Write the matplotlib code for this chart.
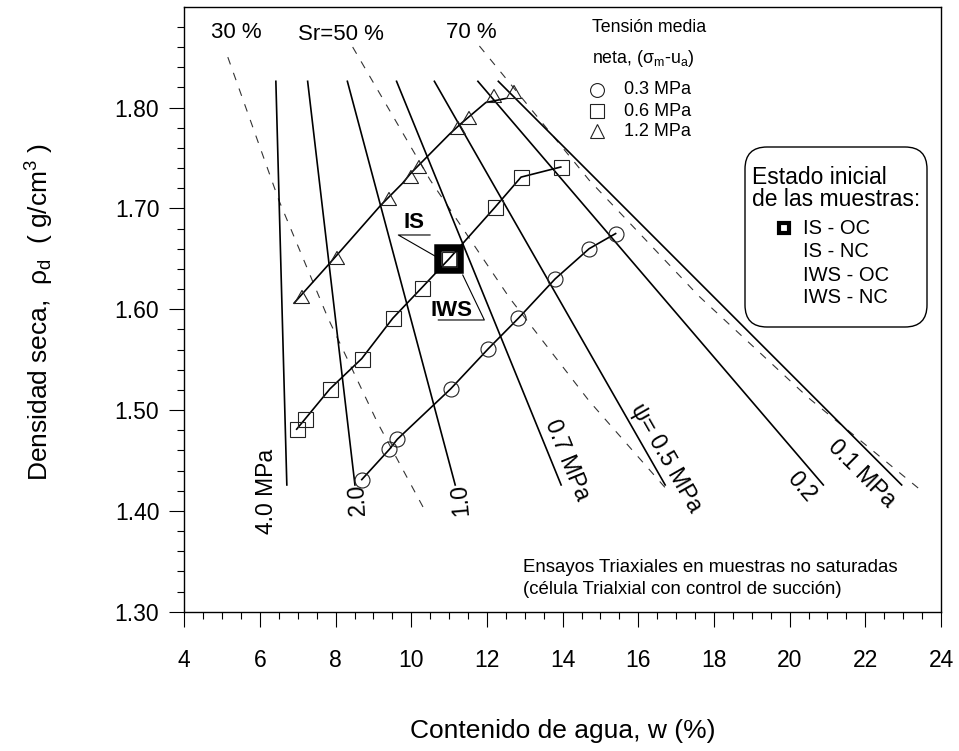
import matplotlib
matplotlib.use("Agg")
import matplotlib.pyplot as plt
from matplotlib.path import Path
from matplotlib.markers import MarkerStyle
from matplotlib.patches import FancyBboxPatch
from matplotlib.lines import Line2D
from matplotlib.transforms import IdentityTransform

plt.rcParams['font.family'] = ['Liberation Sans', 'DejaVu Sans']
plt.rcParams['mathtext.fontset'] = 'custom'
plt.rcParams['mathtext.rm'] = 'Liberation Sans'
plt.rcParams['mathtext.it'] = 'Liberation Sans'
plt.rcParams['mathtext.sf'] = 'Liberation Sans'

# ---------------- data ----------------
# net mean stress 0.3 MPa (circles)
w_03 = [8.69, 9.42, 9.63, 11.04, 12.04, 12.83, 13.80, 14.70, 15.40]
rho_03 = [1.431, 1.461, 1.471, 1.521, 1.561, 1.591, 1.630, 1.660, 1.675]
# net mean stress 0.6 MPa (squares)
w_06 = [6.97, 7.19, 7.85, 8.69, 9.51, 10.27, 11.00, 12.21, 12.90, 13.95]
rho_06 = [1.481, 1.491, 1.521, 1.551, 1.591, 1.621, 1.650, 1.701, 1.731, 1.741]
# net mean stress 1.2 MPa (triangles)
w_12 = [6.90, 7.83, 9.19, 9.77, 9.99, 11.02, 11.31, 11.97, 12.50]
rho_12 = [1.606, 1.645, 1.703, 1.725, 1.735, 1.774, 1.784, 1.805, 1.809]

# initial state IS / IWS
w_init = [11.0]
rho_init = [1.650]

# suction isolines (straight segments)
suction_labels = ['4.0 MPa', '2.0', '1.0', '0.7 MPa', 'ψ= 0.5 MPa', '0.2', '0.1 MPa']
suction_w_top = [6.42, 7.26, 8.31, 9.61, 10.61, 11.76, 12.30]
suction_w_bot = [6.71, 8.51, 11.16, 13.96, 16.71, 20.89, 22.96]
suction_rho_top = 1.826
suction_rho_bot = 1.4257
suction_label_w = [6.16, 8.58, 11.29, 14.12, 16.73, 20.30, 21.91]
suction_label_rho = [1.419, 1.411, 1.411, 1.450, 1.453, 1.424, 1.4375]
suction_label_rot = [90, 93, 95, -67.8, -60.2, -49.4, -45]

# degree of saturation curves (dashed)
sr_labels = ['30 %', 'Sr=50 %', '70 %']
sr30_w = [5.15, 6.50, 7.80, 9.10, 10.35]
sr30_rho = [1.850, 1.708, 1.591, 1.488, 1.401]
sr50_w = [8.45, 10.50, 12.60, 14.70, 16.85]
sr50_rho = [1.860, 1.728, 1.611, 1.509, 1.417]
sr70_w = [11.80, 14.70, 17.60, 20.50, 23.45]
sr70_rho = [1.861, 1.728, 1.613, 1.512, 1.421]
sr_label_w = [5.37, 8.13, 11.59]
sr_label_rho = [1.874, 1.872, 1.874]

x_ticks = [4, 6, 8, 10, 12, 14, 16, 18, 20, 22, 24]
y_ticks = [1.30, 1.40, 1.50, 1.60, 1.70, 1.80]

# ---------------- figure ----------------
W, H = 959, 751
fig = plt.figure(figsize=(W / 100, H / 100), dpi=100)
ax = fig.add_axes([184.3 / W, 1 - 611.7 / H, (941 - 184.3) / W, (611.7 - 6.7) / H])
ax.set_xlim(4, 24)
ax.set_ylim(1.30, 1.90)


def fx(px):
    return px / W


def fy(py):
    return 1 - py / H


for s in ax.spines.values():
    s.set_linewidth(1.0)
ax.set_xticks(x_ticks)
ax.set_xticks([4 + 0.5 * i for i in range(41)], minor=True)
ax.set_yticks(y_ticks)
ax.set_yticks([1.30 + 0.02 * i for i in range(30)], minor=True)
ax.set_yticklabels([f'{v:.2f}' for v in y_ticks])
ax.tick_params(which='major', direction='out', length=11, width=0.8, labelsize=16.5,
               top=False, right=False)
ax.tick_params(which='minor', direction='out', length=5, width=0.8, top=False, right=False)
ax.tick_params(axis='x', which='major', pad=16)
ax.tick_params(axis='y', which='major', pad=7)

# suction lines
for wt, wb in zip(suction_w_top, suction_w_bot):
    ax.plot([wt, wb], [suction_rho_top, suction_rho_bot], color='black', lw=1.2, zorder=2)
for lab, lw_, lr, rot in zip(suction_labels, suction_label_w, suction_label_rho, suction_label_rot):
    ax.text(lw_, lr, lab, rotation=rot, ha='center', va='center', fontsize=16.5,
            rotation_mode='anchor')

# saturation curves
for ws, rs in [(sr30_w, sr30_rho), (sr50_w, sr50_rho), (sr70_w, sr70_rho)]:
    ax.plot(ws, rs, color='#333333', lw=0.8, linestyle=(0, (7, 8)), zorder=1)
for lab, lw_, lr in zip(sr_labels, sr_label_w, sr_label_rho):
    ax.text(lw_, lr, lab, ha='center', va='center', fontsize=16)

# initial state marker (big)
ax.plot(w_init, rho_init, marker='s', markersize=16.2, markeredgewidth=5.4,
        markerfacecolor='white', markeredgecolor='black', linestyle='none', zorder=3)

# triangle marker with origin at lower-left vertex
tri_path = Path([(0, 0), (1, 0), (0.5, 0.87), (0, 0)],
                [Path.MOVETO, Path.LINETO, Path.LINETO, Path.CLOSEPOLY])
tri_marker = MarkerStyle(tri_path)

mk = dict(markerfacecolor='none', markeredgecolor='#222222', markeredgewidth=0.8)
ax.plot(w_03, rho_03, color='black', lw=1.2, marker='o', markersize=10.8, zorder=4, **mk)
ax.plot(w_06, rho_06, color='black', lw=1.2, marker='s', markersize=10.8, zorder=4, **mk)
ax.plot(w_12, rho_12, color='black', lw=1.2, marker=tri_marker, markersize=21.6, zorder=4, **mk)

# IS / IWS annotations
ax.text(10.07, 1.6857, 'IS', ha='center', va='center', fontsize=16, fontweight='bold')
ax.plot([10.495, 9.657, 10.627], [1.6736, 1.6736, 1.6527], color='black', lw=0.8, zorder=2)
ax.text(11.07, 1.5987, 'IWS', ha='center', va='center', fontsize=16, fontweight='bold')
ax.plot([10.714, 11.93, 11.36], [1.5893, 1.5893, 1.6339], color='black', lw=0.8, zorder=2)

# legend: net mean stress
fig.text(fx(591.7), fy(28), 'Tensión media', ha='left', va='center', fontsize=12.8)
fig.text(fx(591.7), fy(58.3), r'neta, ($\sigma_{\rm m}$-u$_{\rm a}$)', ha='left', va='center',
         fontsize=12.8)
leg_rows = [('o', '0.3 MPa', 90), ('s', '0.6 MPa', 111), ('^', '1.2 MPa', 131)]
for m, t, py in leg_rows:
    fig.add_artist(Line2D([fx(597)], [fy(py)], marker=m, markersize=10, markerfacecolor='none',
                          markeredgecolor='#222222', markeredgewidth=0.8,
                          transform=fig.transFigure, linestyle='none'))
    fig.text(fx(624), fy(py), t, ha='left', va='center', fontsize=13)

# legend box: initial state
box = FancyBboxPatch((745, H - 327), 182, 180, boxstyle='round,pad=0,rounding_size=22',
                     transform=IdentityTransform(), facecolor='white', edgecolor='black',
                     lw=1.0, zorder=5, clip_on=False)
fig.patches.append(box)
fig.text(fx(752), fy(177), 'Estado inicial', ha='left', va='center', fontsize=16.5, zorder=6)
fig.text(fx(752), fy(199), 'de las muestras:', ha='left', va='center', fontsize=16.5, zorder=6)
fig.add_artist(Line2D([fx(784)], [fy(228)], marker='s', markersize=7, markeredgewidth=3,
                      markerfacecolor='white', markeredgecolor='black',
                      transform=fig.transFigure, linestyle='none', zorder=7))
for t, py in [('IS - OC', 228), ('IS - NC', 252), ('IWS - OC', 275), ('IWS - NC', 298)]:
    fig.text(fx(803), fy(py), t, ha='left', va='center', fontsize=14.5, zorder=6)

# note
fig.text(fx(523), fy(567), 'Ensayos Triaxiales en muestras no saturadas', ha='left', va='center',
         fontsize=13.4)
fig.text(fx(523), fy(589), '(célula Trialxial con control de succión)', ha='left', va='center',
         fontsize=13.4)

# axis labels
fig.text(fx(562.6), fy(731), 'Contenido de agua, w (%)', ha='center', va='center', fontsize=19)
fig.text(fx(40), fy(312), r'Densidad seca,  $\rho_{\rm d}$  ( g/cm$^{3}$ )', rotation=90,
         ha='center', va='center', fontsize=19)

fig.savefig('out.png', dpi=100)
